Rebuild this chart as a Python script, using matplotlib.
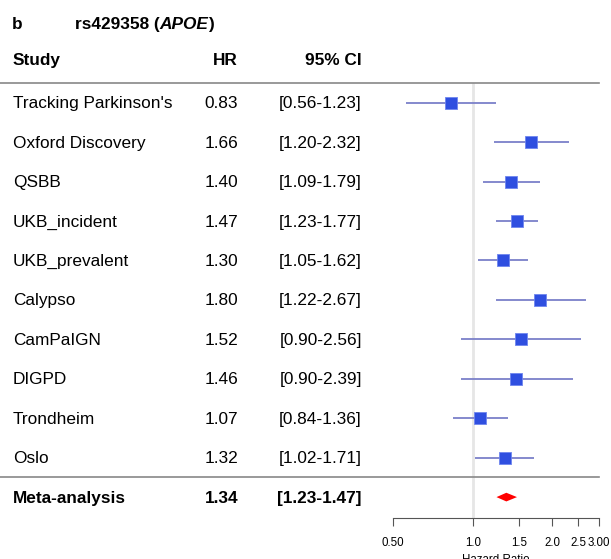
import numpy as np
import matplotlib.pyplot as plt
import matplotlib.transforms as mtransforms

plt.rcParams['font.family'] = ['Liberation Sans', 'DejaVu Sans']

studies = ["Tracking Parkinson's", 'Oxford Discovery', 'QSBB', 'UKB_incident',
           'UKB_prevalent', 'Calypso', 'CamPaIGN', 'DIGPD', 'Trondheim', 'Oslo']
hr = [0.83, 1.66, 1.40, 1.47, 1.30, 1.80, 1.52, 1.46, 1.07, 1.32]
lo = [0.56, 1.20, 1.09, 1.23, 1.05, 1.22, 0.90, 0.90, 0.84, 1.02]
hi = [1.23, 2.32, 1.79, 1.77, 1.62, 2.67, 2.56, 2.39, 1.36, 1.71]
meta_hr, meta_lo, meta_hi = 1.34, 1.23, 1.47
xticks = [0.5, 1.0, 1.5, 2.0, 2.5, 3.0]
xticklabels = ['0.50', '1.0', '1.5', '2.0', '2.5', '3.00']

W, H = 611, 559
fig = plt.figure(figsize=(W / 100, H / 100), dpi=100)

# forest panel placed in pixel terms
x0, x1 = 393, 599
ytop, ybot = 83, 518
ax = fig.add_axes([x0 / W, 1 - ybot / H, (x1 - x0) / W, (ybot - ytop) / H])
ax.set_xscale('log')
ax.set_xlim(0.5, 3.0)
ax.set_ylim(10.53, -0.5)

n = len(studies)
ypos = np.arange(n)
meta_y = n

ax.axvline(1.0, color='#e6e6e6', lw=2, zorder=0)
ax.hlines(ypos, lo, hi, color='#7b80c9', lw=1.3, zorder=2)
ax.scatter(hr, ypos, marker='s', s=75, color='#2f4fe0', edgecolor='#6f86ee',
           linewidth=0.6, zorder=3)
dx = [meta_lo, meta_hr, meta_hi, meta_hr]
dy = [meta_y, meta_y - 0.11, meta_y, meta_y + 0.11]
ax.fill(dx, dy, color='#ff0000', lw=0, zorder=3)

for s in ['top', 'right', 'left']:
    ax.spines[s].set_visible(False)
ax.spines['bottom'].set_color('#555555')
ax.set_yticks([])
ax.set_xticks(xticks)
ax.set_xticklabels(xticklabels, fontsize=8.3)
ax.minorticks_off()
ax.tick_params(axis='x', length=6, color='#555555', pad=8)
ax.set_xlabel('Hazard Ratio', fontsize=8.3, labelpad=3)

blend = mtransforms.blended_transform_factory(fig.transFigure, ax.transData)
for yy in [-0.5, n - 0.5]:
    ax.plot([0, x1 / W], [yy, yy], color='#888888', lw=1.2,
            transform=blend, clip_on=False)

fs = 12.4
off = 0.14  # baseline sits a little below row centre
for i in range(n):
    fig.text(13 / W, ypos[i] + off, studies[i], transform=blend, fontsize=fs, va='baseline')
    fig.text(238 / W, ypos[i] + off, f'{hr[i]:.2f}', transform=blend, fontsize=fs,
             va='baseline', ha='right')
    fig.text(362 / W, ypos[i] + off, f'[{lo[i]:.2f}-{hi[i]:.2f}]', transform=blend,
             fontsize=fs, va='baseline', ha='right')
fig.text(13 / W, meta_y + off, 'Meta-analysis', transform=blend, fontsize=fs,
         va='baseline', fontweight='bold')
fig.text(238 / W, meta_y + off, f'{meta_hr:.2f}', transform=blend, fontsize=fs,
         va='baseline', ha='right', fontweight='bold')
fig.text(362 / W, meta_y + off, f'[{meta_lo:.2f}-{meta_hi:.2f}]', transform=blend,
         fontsize=fs, va='baseline', ha='right', fontweight='bold')

# header
fig.text(13 / W, 1 - 65 / H, 'Study', fontsize=fs, fontweight='bold', va='baseline')
fig.text(238 / W, 1 - 65 / H, 'HR', fontsize=fs, fontweight='bold', va='baseline', ha='right')
fig.text(362 / W, 1 - 65 / H, '95% CI', fontsize=fs, fontweight='bold', va='baseline', ha='right')
fig.text(12 / W, 1 - 29 / H, 'b', fontsize=fs, fontweight='bold', va='baseline')

# title in pieces: bold, bold italic, bold
renderer = fig.canvas.get_renderer()
xpix = 75
for piece, style in [('rs429358 (', 'normal'), ('APOE', 'italic'), (')', 'normal')]:
    t = fig.text(xpix / W, 1 - 29 / H, piece, fontsize=fs, fontweight='bold',
                 fontstyle=style, va='baseline')
    xpix += t.get_window_extent(renderer).width

fig.savefig('out.png', dpi=100)
